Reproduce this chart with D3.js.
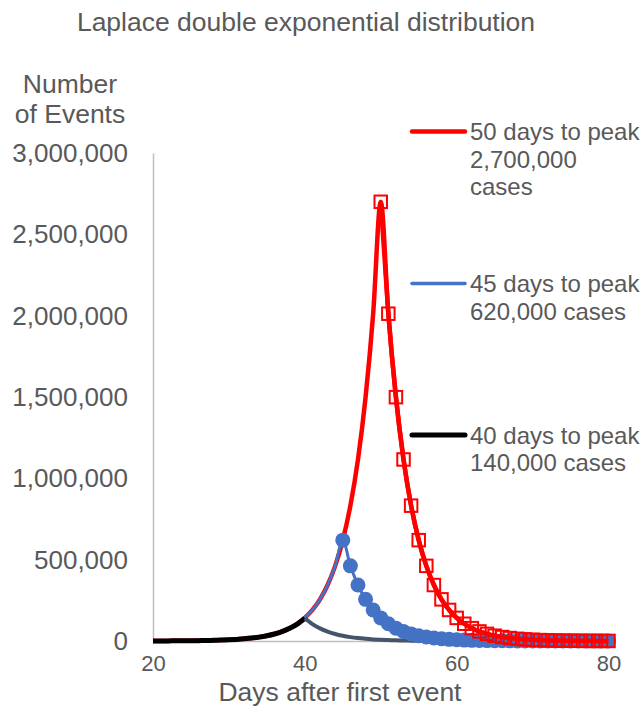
<!DOCTYPE html>
<html>
<head>
<meta charset="utf-8">
<script src="https://cdn.jsdelivr.net/npm/d3@7"></script>
<style>
  html, body { margin: 0; padding: 0; background: #fff; }
  svg { display: block; }
  text { font-family: "Liberation Sans", Arial, sans-serif; fill: #595959; }
</style>
</head>
<body>
<svg id="chart" width="642" height="706"></svg>
<script>
// Days after the first event (x categories)
const days = [20,21,22,23,24,25,26,27,28,29,30,31,32,33,34,35,36,37,38,39,40,
  41,42,43,44,45,46,47,48,49,50,51,52,53,54,55,56,57,58,59,60,
  61,62,63,64,65,66,67,68,69,70,71,72,73,74,75,76,77,78,79,80];

// Peak at day 50, 2,700,000 cases
const peak50 = [390,530,710,950,1280,1720,2310,3100,4160,5580,7490,10100,13500,18100,24300,
  32600,43800,58800,78900,106000,142000,191000,256000,344000,462000,620000,832000,1116000,1499000,2012000,
  2700000,
  2012000,1499000,1116000,832000,620000,462000,344000,256000,191000,142000,106000,78900,58800,43800,32600,
  24300,18100,13500,10100,7490,5580,4160,3100,2310,1720,1280,950,710,530,390];

// Peak at day 45, 620,000 cases
const peak45 = [400,530,710,960,1280,1720,2310,3100,4160,5580,7500,10100,13500,18100,24300,32700,
  43800,58800,79000,106000,142000,191000,256000,344000,462000,
  620000,
  462000,344000,256000,191000,142000,106000,79000,58800,43800,32700,24300,18100,13500,10100,7500,5580,
  4160,3100,2310,1720,1280,960,710,530,400,290,220,160,120,90,70,50,40,30,20];

// Peak at day 40, 140,000 cases
const peak40 = [390,520,700,940,1260,1690,2270,3050,4090,5490,7370,9900,13300,17800,23900,32100,
  43100,57900,77700,104000,
  140000,
  104000,77700,57900,43100,32100,23900,17800,13300,9900,7370,5490,4090,3050,2270,1690,1260,940,700,
  520,390,290,220,160,120,90,70,50,40,30,20,15,11,8,6,5,3,3,2,1,1];

const xTicks = [20, 40, 60, 80];
const yTicks = [0, 500000, 1000000, 1500000, 2000000, 2500000, 3000000];

const legendItems = [
  { lines: ["50 days to peak", "2,700,000", "cases"], color: "#FF0000", width: 4.5 },
  { lines: ["45 days to peak", "620,000 cases"], color: "#4472C4", width: 3.5 },
  { lines: ["40 days to peak", "140,000 cases"], color: "#000000", width: 5 }
];

const svg = d3.select("#chart");
const plot = { left: 153, right: 608.5, top: 153, bottom: 641 };

const x = d3.scaleLinear().domain([20, 80]).range([plot.left, plot.right]);
const y = d3.scaleLinear().domain([0, 3000000]).range([plot.bottom, plot.top]);

const pts = arr => days.map((d, i) => ({ day: d, v: arr[i] }));
const line = d3.line().x(d => x(d.day)).y(d => y(d.v)).curve(d3.curveMonotoneX);

// Title
svg.append("text").attr("x", 306).attr("y", 30.5).attr("text-anchor", "middle")
  .style("font-size", "26.5px").text("Laplace double exponential distribution");

// Y axis title (two lines)
const yt = svg.append("text").attr("text-anchor", "middle").style("font-size", "26.5px");
yt.append("tspan").attr("x", 70).attr("y", 93).text("Number");
yt.append("tspan").attr("x", 70).attr("y", 123).text("of Events");

// Axes
const yAxis = svg.append("g").attr("transform", `translate(${plot.left},0)`)
  .call(d3.axisLeft(y).tickValues(yTicks).tickFormat(d3.format(",")).tickSize(0).tickPadding(25));
yAxis.select(".domain").attr("stroke", "#BFBFBF").attr("stroke-width", 1.5);
yAxis.selectAll("text").style("font-size", "26px").attr("fill", "#595959")
  .attr("font-family", null).attr("dy", "0.33em");

const xAxis = svg.append("g").attr("transform", `translate(0,${plot.bottom})`)
  .call(d3.axisBottom(x).tickValues(xTicks).tickFormat(d3.format("d")).tickSize(0).tickPadding(14));
xAxis.select(".domain").attr("stroke", "#BFBFBF").attr("stroke-width", 1.5);
xAxis.selectAll("text").style("font-size", "22px").attr("fill", "#595959")
  .attr("font-family", null).attr("dy", "0.71em");

// X axis title
svg.append("text").attr("x", 340).attr("y", 701).attr("text-anchor", "middle")
  .style("font-size", "26.5px").text("Days after first event");

// Series lines
const g = svg.append("g");
g.append("path").datum(pts(peak50)).attr("d", line)
  .attr("fill", "none").attr("stroke", "#FF0000").attr("stroke-width", 4.5);
g.append("path").datum(pts(peak45)).attr("d", line)
  .attr("fill", "none").attr("stroke", "#4472C4").attr("stroke-width", 3);
g.append("path").datum(pts(peak40).filter(d => d.day <= 40)).attr("d", line)
  .attr("fill", "none").attr("stroke", "#000000").attr("stroke-width", 5);
g.append("path").datum(pts(peak40).filter(d => d.day >= 40)).attr("d", line)
  .attr("fill", "none").attr("stroke", "#44546A").attr("stroke-width", 4);

// Blue dot markers after the day-45 peak
g.selectAll("circle.m45").data(pts(peak45).filter(d => d.day >= 45)).join("circle")
  .attr("class", "m45").attr("cx", d => x(d.day)).attr("cy", d => y(d.v)).attr("r", 7.5)
  .attr("fill", "#4472C4");

// Red falling side redrawn above the dots, with hollow square markers
g.append("path").datum(pts(peak50).filter(d => d.day >= 50)).attr("d", line)
  .attr("fill", "none").attr("stroke", "#FF0000").attr("stroke-width", 4.5);
const sq = 12.5;
g.selectAll("rect.m50").data(pts(peak50).filter(d => d.day >= 50)).join("rect")
  .attr("class", "m50").attr("x", d => x(d.day) - sq / 2).attr("y", d => y(d.v) - sq / 2)
  .attr("width", sq).attr("height", sq)
  .attr("fill", "none").attr("stroke", "#FF0000").attr("stroke-width", 2);

// Legend
const legendTop = [131.5, 283.5, 435];
legendItems.forEach((item, i) => {
  const ly = legendTop[i];
  svg.append("line").attr("x1", 412).attr("x2", 465).attr("y1", ly).attr("y2", ly)
    .attr("stroke", item.color).attr("stroke-width", item.width).attr("stroke-linecap", "round");
  const t = svg.append("text").style("font-size", "24px");
  item.lines.forEach((s, k) => {
    t.append("tspan").attr("x", 470).attr("y", ly + 8.5 + k * 27.5).text(s);
  });
});
</script>
</body>
</html>
